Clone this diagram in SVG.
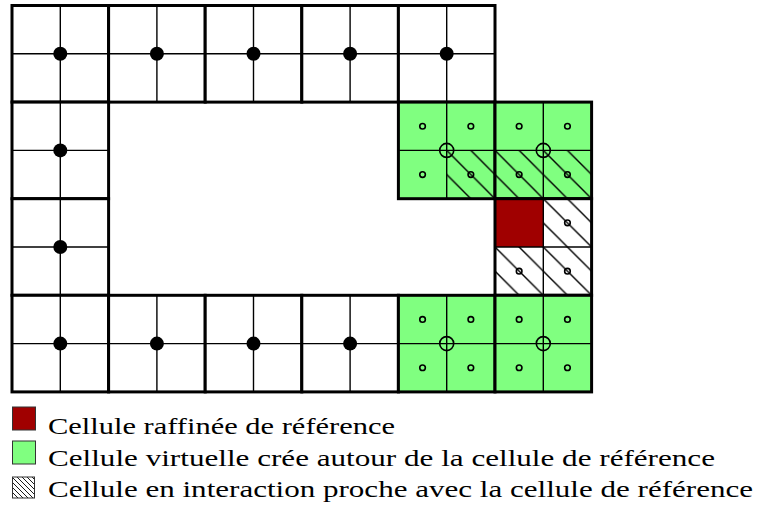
<svg xmlns="http://www.w3.org/2000/svg" width="760" height="510" viewBox="0 0 760 510">
<style>
.cell{fill:#ffffff}
.green{fill:#80ff80}
.red{fill:#a00000}
.thin{stroke:#000;stroke-width:1.4;fill:none}
.thick{stroke:#000;stroke-width:3;fill:none}
.dot{fill:#000}
.sc{fill:none;stroke:#000;stroke-width:1.6}
.bc{fill:none;stroke:#000;stroke-width:1.6}
.key{stroke:#333;stroke-width:1}
</style>
<defs>
<pattern id="hatch" patternUnits="userSpaceOnUse" width="24.15" height="24.15">
<path d="M0,0 L24.15,24.15 M-3,21.15 L3,27.15 M21.15,-3 L27.15,3" stroke="#000" stroke-width="1.4"/>
</pattern>
<pattern id="hatchKey" patternUnits="userSpaceOnUse" width="5" height="5">
<path d="M0,0 L5,5 M-1,4 L1,6 M4,-1 L6,1" stroke="#000" stroke-width="0.9"/>
</pattern>
<g id="cross">
<line class="thin" x1="48.3" y1="0" x2="48.3" y2="96.6"/>
<line class="thin" x1="0" y1="48.3" x2="96.6" y2="48.3"/>
</g>
<g id="whiteCell">
<rect class="cell" x="0" y="0" width="96.6" height="96.6"/>
<use href="#cross"/>
<rect class="thick" x="0" y="0" width="96.6" height="96.6"/>
<circle class="dot" cx="48.3" cy="48.3" r="7"/>
</g>
<g id="smalls">
<circle class="sc" cx="24.15" cy="24.15" r="2.8"/>
<circle class="sc" cx="72.45" cy="24.15" r="2.8"/>
<circle class="sc" cx="24.15" cy="72.45" r="2.8"/>
<circle class="sc" cx="72.45" cy="72.45" r="2.8"/>
</g>
</defs>

<g id="nodes">
<g id="c00" transform="translate(12,5.5)"><use href="#whiteCell"/></g>
<g id="c10" transform="translate(108.6,5.5)"><use href="#whiteCell"/></g>
<g id="c20" transform="translate(205.2,5.5)"><use href="#whiteCell"/></g>
<g id="c30" transform="translate(301.8,5.5)"><use href="#whiteCell"/></g>
<g id="c40" transform="translate(398.4,5.5)"><use href="#whiteCell"/></g>
<g id="c01" transform="translate(12,102.1)"><use href="#whiteCell"/></g>
<g id="c02" transform="translate(12,198.7)"><use href="#whiteCell"/></g>
<g id="c03" transform="translate(12,295.3)"><use href="#whiteCell"/></g>
<g id="c13" transform="translate(108.6,295.3)"><use href="#whiteCell"/></g>
<g id="c23" transform="translate(205.2,295.3)"><use href="#whiteCell"/></g>
<g id="c33" transform="translate(301.8,295.3)"><use href="#whiteCell"/></g>

<g id="g41" transform="translate(398.4,102.1)">
<rect class="green" x="0" y="0" width="96.6" height="96.6"/>
<rect fill="url(#hatch)" x="48.3" y="48.3" width="48.3" height="48.3"/>
<use href="#cross"/>
<rect class="thick" x="0" y="0" width="96.6" height="96.6"/>
<use href="#smalls"/>
<circle class="bc" cx="48.3" cy="48.3" r="7"/>
</g>
<g id="g51" transform="translate(495,102.1)">
<rect class="green" x="0" y="0" width="96.6" height="96.6"/>
<rect fill="url(#hatch)" x="0" y="48.3" width="96.6" height="48.3"/>
<use href="#cross"/>
<rect class="thick" x="0" y="0" width="96.6" height="96.6"/>
<use href="#smalls"/>
<circle class="bc" cx="48.3" cy="48.3" r="7"/>
</g>
<g id="r52" transform="translate(495,198.7)">
<rect class="cell" x="0" y="0" width="96.6" height="96.6"/>
<rect fill="url(#hatch)" x="0" y="0" width="96.6" height="96.6"/>
<rect class="red" x="0" y="0" width="48.3" height="48.3"/>
<use href="#cross"/>
<rect class="thick" x="0" y="0" width="96.6" height="96.6"/>
<circle class="sc" cx="72.45" cy="24.15" r="2.8"/>
<circle class="sc" cx="24.15" cy="72.45" r="2.8"/>
<circle class="sc" cx="72.45" cy="72.45" r="2.8"/>
</g>
<g id="g43" transform="translate(398.4,295.3)">
<rect class="green" x="0" y="0" width="96.6" height="96.6"/>
<use href="#cross"/>
<rect class="thick" x="0" y="0" width="96.6" height="96.6"/>
<use href="#smalls"/>
<circle class="bc" cx="48.3" cy="48.3" r="7"/>
</g>
<g id="g53" transform="translate(495,295.3)">
<rect class="green" x="0" y="0" width="96.6" height="96.6"/>
<use href="#cross"/>
<rect class="thick" x="0" y="0" width="96.6" height="96.6"/>
<use href="#smalls"/>
<circle class="bc" cx="48.3" cy="48.3" r="7"/>
</g>
</g>

<g id="connectors"></g>

<g id="legend" font-family="'Liberation Serif', 'DejaVu Serif', serif" font-size="23" fill="#000">
<rect class="red key" x="12.5" y="407" width="23" height="23"/>
<rect class="green key" x="12.5" y="441" width="23" height="23"/>
<rect fill="#fff" x="12.5" y="477" width="22" height="21"/>
<rect fill="url(#hatchKey)" x="12.5" y="477" width="22" height="21"/>
<rect class="key" fill="none" x="12.5" y="477" width="22" height="21"/>
<text x="48" y="434" textLength="347" lengthAdjust="spacingAndGlyphs">Cellule raffinée de référence</text>
<text x="48" y="466" textLength="667" lengthAdjust="spacingAndGlyphs">Cellule virtuelle crée autour de la cellule de référence</text>
<text x="48" y="497" textLength="705" lengthAdjust="spacingAndGlyphs">Cellule en interaction proche avec la cellule de référence</text>
</g>
</svg>
